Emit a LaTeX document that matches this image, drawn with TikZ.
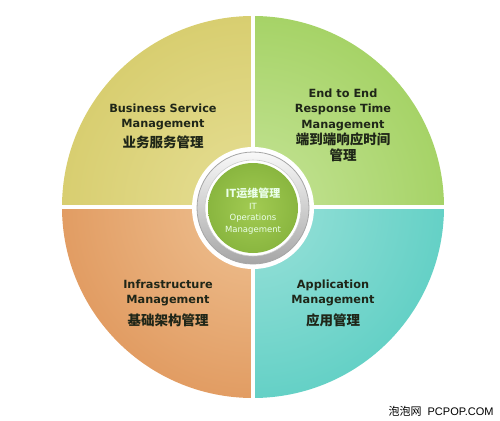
\documentclass[tikz,border=0pt]{standalone}
\usepackage{fontspec}
\setmainfont{DejaVu Sans}
\newfontfamily\cjk{Noto Sans CJK SC}
\newfontfamily\wmfont{Liberation Sans}
\definecolor{tlin}{HTML}{E6DF96}
\definecolor{tlout}{HTML}{CABD4A}
\definecolor{trin}{HTML}{C6E498}
\definecolor{trout}{HTML}{86C236}
\definecolor{blin}{HTML}{EFC293}
\definecolor{blout}{HTML}{D47733}
\definecolor{brin}{HTML}{9CE2DA}
\definecolor{brout}{HTML}{2DBFB2}
\definecolor{ballin}{HTML}{A2CB52}
\definecolor{ballout}{HTML}{71A12D}
\definecolor{labeltext}{HTML}{1F2618}
\newcommand{\zh}[1]{{\cjk\bfseries\fontsize{13.5}{17}\selectfont #1}}
\tikzset{
  quadlabel/.style={align=center, text=labeltext,
    font=\fontsize{11.3}{15.5}\selectfont\bfseries},
  itlabel/.style={align=center, text=white!92!green,
    font=\fontsize{8.5}{11.5}\selectfont},
  gap/.style={white, line width=4.5pt}
}
\begin{document}
\begin{tikzpicture}[x=1pt,y=-1pt]
\useasboundingbox (0,0) rectangle (500,420);
\coordinate (c) at (253,207);
\coordinate (hub) at (253,208);
% four shaded quarters
\foreach \s/\inn/\out in {0/brin/brout, 90/blin/blout, 180/tlin/tlout, 270/trin/trout}{
  \begin{scope}
    \clip (c) -- ++(\s:191) arc[start angle=\s, delta angle=90, radius=191] -- cycle;
    \shade[inner color=\inn, outer color=\out] (c) circle (382);
  \end{scope}
}
\draw[gap] (253,12) -- (253,402);
\draw[gap] (58,207) -- (448,207);
% silver ring and green centre
\fill[white] (hub) circle (61);
\shade[top color=gray!5, bottom color=gray!70] (hub) circle (56);
\draw[gray!70, line width=0.8pt] (hub) circle (56);
\fill[white] (hub) circle (48);
\draw[gray!40, line width=0.6pt] (hub) circle (48);
\begin{scope}
  \clip (hub) circle (45);
  \shade[inner color=ballin, outer color=ballout] (hub) circle (90);
\end{scope}
% labels
\node[quadlabel] (bsm) at (163,126) {Business Service\\Management\\[4pt]\zh{业务服务管理}};
\node[quadlabel] (ertm) at (343,125) {End to End\\Response Time\\Management\\[1pt]\zh{端到端响应时间}\\\zh{管理}};
\node[quadlabel] (infra) at (168,303) {Infrastructure\\Management\\[6pt]\zh{基础架构管理}};
\node[quadlabel] (app) at (333,303) {Application\\Management\\[6pt]\zh{应用管理}};
\node[itlabel] (itops) at (253,211) {{\cjk\bfseries\fontsize{11}{13}\selectfont IT运维管理}\\IT\\Operations\\Management};
\node[anchor=east, font=\wmfont\fontsize{11}{13}\selectfont] (mark) at (497,411) {{\cjk 泡泡网}\ \ PCPOP.COM};
\end{tikzpicture}
\end{document}
